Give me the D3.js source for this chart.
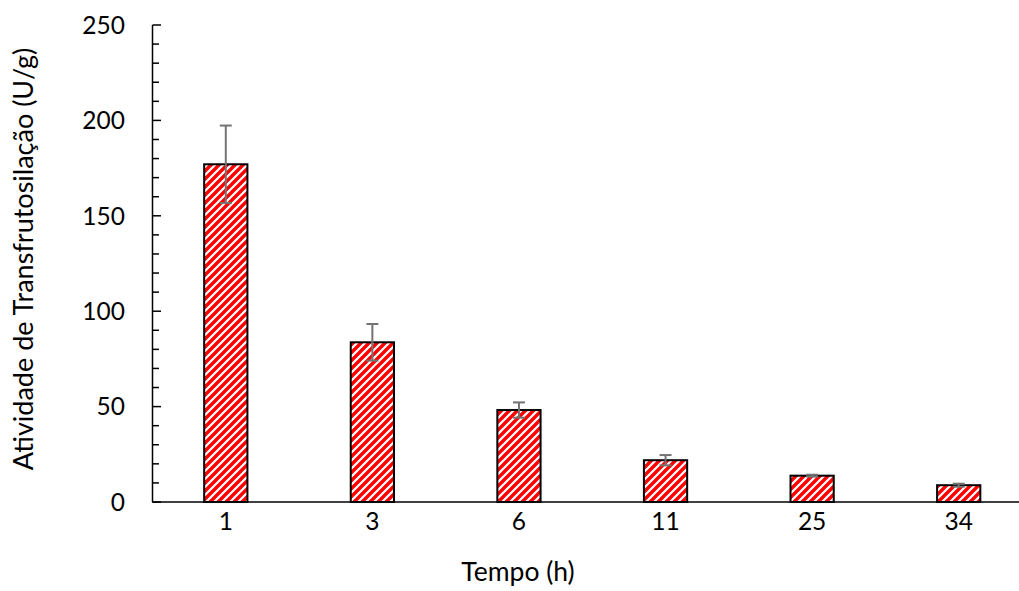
<!DOCTYPE html>
<html><head><meta charset="utf-8">
<script src="https://cdn.jsdelivr.net/npm/d3@7"></script>
<style>body{margin:0;background:#fff}svg{display:block}text{font-family:Lato,"Open Sans",sans-serif;fill:#000}</style>
</head><body><svg id="c" width="1019" height="591"></svg>
<script>
const categories = ["1","3","6","11","25","34"];
const values = [177, 83.7, 48.2, 21.9, 13.8, 8.8];
const errors = [20.3, 9.6, 4, 2.7, 0.5, 0.8];
const yTicks = [0, 50, 100, 150, 200, 250];
const yTitle = "Atividade de Transfrutosilação (U/g)";
const xTitle = "Tempo (h)";

const svg = d3.select("#c");
const x = d3.scaleBand().domain(categories).range([152.5, 1032]).paddingInner(0.705).paddingOuter(0.3525);
const y = d3.scaleLinear().domain([0, 250]).range([502, 25]);

const defs = svg.append("defs");
const pat = defs.append("pattern").attr("id","stripes").attr("patternUnits","userSpaceOnUse")
  .attr("width",8).attr("height",8);
pat.append("rect").attr("width",8).attr("height",8).attr("fill","#fff");
pat.append("path").attr("d","M-2,2 L2,-2 M0,8 L8,0 M6,10 L10,6").attr("stroke","#ff0000").attr("stroke-width",3.4);

// bars
svg.selectAll("rect.bar").data(values).join("rect").attr("class","bar")
  .attr("x",(d,i)=>x(categories[i])).attr("width",x.bandwidth())
  .attr("y",d=>y(d)).attr("height",d=>y(0)-y(d))
  .attr("fill","url(#stripes)").attr("stroke","#000").attr("stroke-width",2);

// error bars
const eb = svg.append("g").attr("stroke","#737373").attr("stroke-width",2);
values.forEach((v,i)=>{
  const cx = x(categories[i]) + x.bandwidth()/2;
  eb.append("line").attr("x1",cx).attr("x2",cx).attr("y1",y(v+errors[i])).attr("y2",y(v-errors[i]));
  [v+errors[i], v-errors[i]].forEach(e=>{
    eb.append("line").attr("x1",cx-6).attr("x2",cx+6).attr("y1",y(e)).attr("y2",y(e));
  });
});

// y axis
const ya = svg.append("g");
ya.append("line").attr("x1",152.5).attr("x2",152.5).attr("y1",y(250)).attr("y2",y(0)).attr("stroke","#000").attr("stroke-width",1.5);
d3.range(0,251,10).forEach(t=>{
  const major = t%50===0;
  ya.append("line").attr("x1",152.5).attr("x2",major?161:159).attr("y1",y(t)).attr("y2",y(t)).attr("stroke","#000").attr("stroke-width",1.5);
});
ya.selectAll("text").data(yTicks).join("text").attr("x",125).attr("y",d=>y(d)).attr("dy","0.36em")
  .attr("text-anchor","end").attr("font-size",24.5).text(d=>d);

// x axis
svg.append("line").attr("x1",152).attr("x2",1019).attr("y1",y(0)).attr("y2",y(0)).attr("stroke","#000").attr("stroke-width",1.5);
svg.append("g").selectAll("text").data(categories).join("text")
  .attr("x",d=>x(d)+x.bandwidth()/2).attr("y",521).attr("dy","0.36em").attr("text-anchor","middle").attr("font-size",24.5).text(d=>d);

svg.append("text").attr("x",518).attr("y",581).attr("text-anchor","middle").attr("font-size",26.5).text(xTitle);
svg.append("text").attr("transform","translate(33,259) rotate(-90)").attr("text-anchor","middle").attr("font-size",27).text(yTitle);
</script></body></html>
